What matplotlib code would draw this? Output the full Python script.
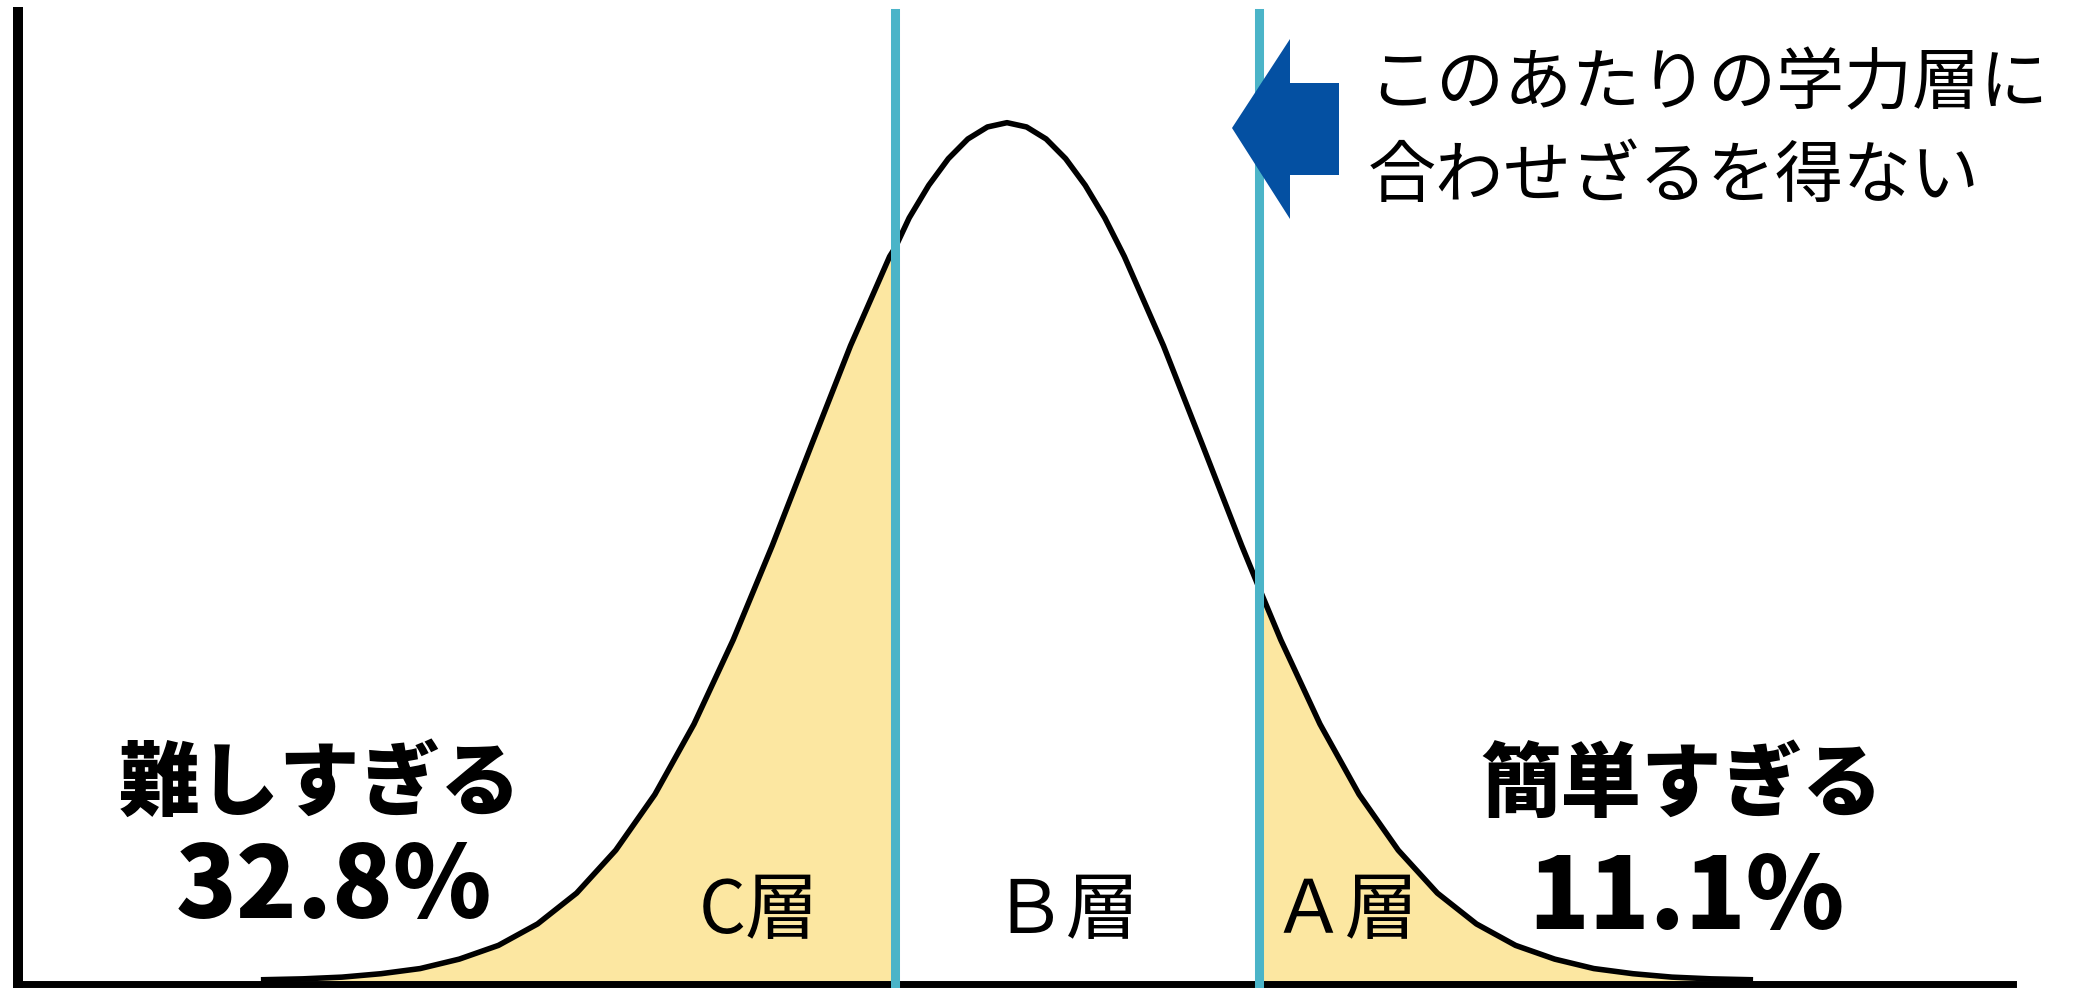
import numpy as np
import matplotlib
matplotlib.use("Agg")
import matplotlib.pyplot as plt
import matplotlib.patches as mpatches

plt.rcParams['font.family'] = ['Noto Sans CJK JP', 'DejaVu Sans']

# Data: bell curve (score vs relative height)
score = [12, 14, 16, 18, 20, 22, 24, 26, 28, 30, 32, 34, 36, 38, 40, 42,
         44, 44.3, 45, 46, 47, 48, 49, 50, 51, 52, 53, 54, 55, 56, 58, 60,
         62, 62.9, 64, 66, 68, 70, 72, 74, 76, 78, 80, 82, 84, 86, 88]
height = [0.001, 0.002, 0.004, 0.008, 0.014, 0.025, 0.041, 0.066, 0.102,
          0.152, 0.217, 0.299, 0.397, 0.507, 0.624, 0.740, 0.844, 0.855,
          0.889, 0.927, 0.958, 0.981, 0.995, 1.000, 0.995, 0.981, 0.958,
          0.927, 0.889, 0.844, 0.740, 0.624, 0.507, 0.457, 0.397, 0.299,
          0.217, 0.152, 0.102, 0.066, 0.041, 0.025, 0.014, 0.008, 0.004,
          0.002, 0.001]
cutoffs = [44.3, 62.9]

layer_names = ['C層', 'Ｂ層', 'Ａ層']
layer_pos = [37.3, 53.0, 67.3]
hard_label = '難しすぎる'
hard_pct = '32.8%'
easy_label = '簡単すぎる'
easy_pct = '11.1%'
note_lines = ['このあたりの学力層に', '合わせざるを得ない']

# Colours
c_fill = '#FCE7A1'
c_cut = '#4BB4C8'
c_arrow = '#0450A2'

W, H = 2073, 988
fig = plt.figure(figsize=(W / 100, H / 100), dpi=100)

# main axes: left spine at px 18, bottom spine at px 984
ax = fig.add_axes([18 / W, 4 / H, (2013 - 18) / W, (984 - 12) / H])
ax.set_xlim(-0.56, 101.43)
ax.set_ylim(-0.004, 1.129)
for s in ['top', 'right']:
    ax.spines[s].set_visible(False)
ax.spines['left'].set_linewidth(7.2)
ax.spines['bottom'].set_linewidth(5)
ax.set_xticks([])
ax.set_yticks([])

x = np.array(score)
y = np.array(height)
ax.fill_between(x, y, where=x <= cutoffs[0], color=c_fill, lw=0, zorder=1)
ax.fill_between(x, y, where=x >= cutoffs[1], color=c_fill, lw=0, zorder=1)
ax.plot(x, y, color='black', lw=4, solid_joinstyle='round', zorder=3)
for c in cutoffs:
    ax.plot([c, c], [-0.02, 1.128], color=c_cut, lw=6.5, clip_on=False, zorder=4)

for name, p in zip(layer_names, layer_pos):
    ax.text(p, 0.08, name, ha='center', va='center', fontsize=53, zorder=5)

# overlay in pixel coords for annotations
ov = fig.add_axes([0, 0, 1, 1], facecolor='none')
ov.set_xlim(0, W)
ov.set_ylim(H, 0)
ov.axis('off')

ov.text(320, 785, hard_label, ha='center', va='center', fontsize=58, fontweight='heavy')
ov.text(334, 888, hard_pct, ha='center', va='center', fontsize=72, fontweight='heavy')
ov.text(1682, 786, easy_label, ha='center', va='center', fontsize=58, fontweight='heavy')
ov.text(1686, 899, easy_pct, ha='center', va='center', fontsize=72, fontweight='heavy')

ov.text(1368, 85, note_lines[0], ha='left', va='center', fontsize=49)
ov.text(1368, 178, note_lines[1], ha='left', va='center', fontsize=49)

arrow = mpatches.Polygon([(1232, 128), (1290, 39), (1290, 83), (1339, 83),
                          (1339, 175), (1290, 175), (1290, 219)],
                         closed=True, color=c_arrow, lw=0)
ov.add_patch(arrow)

fig.savefig('out.png', dpi=100)
